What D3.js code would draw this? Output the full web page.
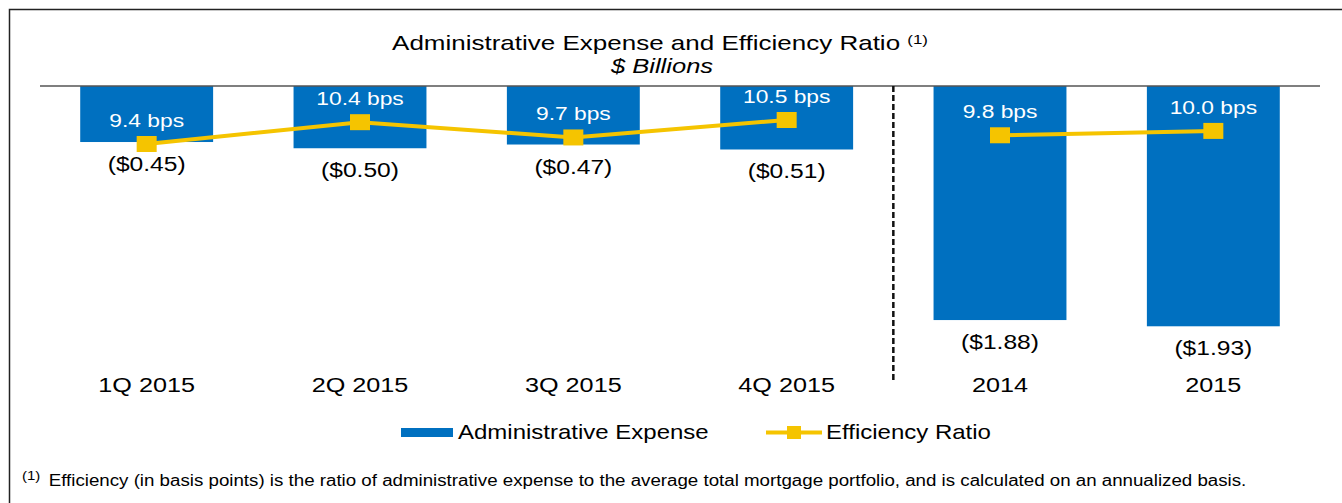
<!DOCTYPE html>
<html>
<head>
<meta charset="utf-8">
<script src="https://cdn.jsdelivr.net/npm/d3@7"></script>
<style>
  body { margin: 0; background: #fff; }
  svg { display: block; font-family: "Liberation Sans", Arial, sans-serif; }
</style>
</head>
<body>
<div id="chart"></div>
<script>
// data
const categories = ['1Q 2015', '2Q 2015', '3Q 2015', '4Q 2015', '2014', '2015'];
const expense = [0.45, 0.50, 0.47, 0.51, 1.88, 1.93];          // $ billions (shown negative)
const efficiency = [9.4, 10.4, 9.7, 10.5, 9.8, 10.0];          // bps
const periodGroup = ['quarter', 'quarter', 'quarter', 'quarter', 'year', 'year'];
const seriesNames = ['Administrative Expense', 'Efficiency Ratio'];

const W = 1342, H = 503;
const SX = 1.2; // the source picture is stretched horizontally
const BLUE = '#0070C0', GOLD = '#F5C400';

const svg = d3.select('#chart').append('svg')
    .attr('width', W)
    .attr('height', H);

// text helper: draws stretched text at x,y
function label(x, y, str, opts) {
    opts = opts || {};
    return svg.append('text')
        .attr('transform', `translate(${x},${y}) scale(${opts.sx || SX},1)`)
        .attr('text-anchor', opts.anchor || 'middle')
        .attr('font-size', opts.size || 20)
        .attr('font-style', opts.italic ? 'italic' : null)
        .attr('fill', opts.fill || '#000')
        .text(str);
}

// frame
svg.append('rect')
    .attr('x', 9.5).attr('y', 9.5)
    .attr('width', W + 20).attr('height', H + 20)
    .attr('fill', 'none')
    .attr('stroke', '#222')
    .attr('stroke-width', 1.5);

// title
const title = label(660, 50, 'Administrative Expense and Efficiency Ratio ', { size: 20, sx: 1.3 });
title.append('tspan')
    .attr('font-size', 13)
    .attr('dy', -6)
    .text('(1)');
label(662, 73, '$ Billions', { size: 19.5, italic: true, sx: 1.31 });

// scales
const x = d3.scaleBand()
    .domain(categories)
    .range([40, 1320])
    .paddingInner(0.377)
    .paddingOuter(0.1885);

const y = d3.scaleLinear()
    .domain([0, 2])
    .range([86, 335]);

const yEff = d3.scaleLinear()
    .domain([9.4, 10.5])
    .range([144, 120]);

// bars (hang down from the zero line)
svg.selectAll('rect.bar')
    .data(expense)
    .enter()
    .append('rect')
    .attr('class', 'bar')
    .attr('x', (d, i) => x(categories[i]))
    .attr('y', y(0))
    .attr('width', x.bandwidth())
    .attr('height', d => y(d) - y(0))
    .attr('fill', BLUE);

// zero line
svg.append('line')
    .attr('x1', 40).attr('x2', 1320)
    .attr('y1', y(0)).attr('y2', y(0))
    .attr('stroke', '#555')
    .attr('stroke-width', 1.5);

// divider between quarters and years
const divX = (x('4Q 2015') + x.bandwidth() + x('2014')) / 2;
svg.append('line')
    .attr('x1', divX).attr('x2', divX)
    .attr('y1', y(0)).attr('y2', 381)
    .attr('stroke', '#111')
    .attr('stroke-width', 2.5)
    .attr('stroke-dasharray', '6,3');

// bar value labels
expense.forEach((d, i) => {
    label(x(categories[i]) + x.bandwidth() / 2, y(d) + 29, `($${d.toFixed(2)})`, { size: 20.5 });
});

// efficiency lines, one per period group
const cx = i => x(categories[i]) + x.bandwidth() / 2;
const line = d3.line()
    .x(d => cx(d))
    .y(d => yEff(efficiency[d]));

['quarter', 'year'].forEach(g => {
    const idx = d3.range(categories.length).filter(i => periodGroup[i] === g);
    svg.append('path')
        .datum(idx)
        .attr('d', line)
        .attr('fill', 'none')
        .attr('stroke', GOLD)
        .attr('stroke-width', 4);
});

svg.selectAll('rect.marker')
    .data(efficiency)
    .enter()
    .append('rect')
    .attr('class', 'marker')
    .attr('x', (d, i) => cx(i) - 10)
    .attr('y', d => yEff(d) - 8)
    .attr('width', 20)
    .attr('height', 16)
    .attr('fill', GOLD);

// efficiency labels
efficiency.forEach((d, i) => {
    label(cx(i), yEff(d) - 17, `${d.toFixed(1)} bps`, { size: 19, fill: '#fff' });
});

// category labels
categories.forEach((c, i) => {
    label(cx(i), 392, c, { size: 21 });
});

// legend
svg.append('rect')
    .attr('x', 401).attr('y', 428)
    .attr('width', 52).attr('height', 9)
    .attr('fill', BLUE);
label(458, 439, seriesNames[0], { size: 20, anchor: 'start' });

svg.append('line')
    .attr('x1', 766).attr('x2', 822)
    .attr('y1', 432.5).attr('y2', 432.5)
    .attr('stroke', GOLD)
    .attr('stroke-width', 4);
svg.append('rect')
    .attr('x', 787).attr('y', 426)
    .attr('width', 14).attr('height', 13)
    .attr('fill', GOLD);
label(826, 439, seriesNames[1], { size: 20, anchor: 'start' });

// footnote
const foot = label(22, 486, '', { size: 15.6, anchor: 'start' });
foot.append('tspan')
    .attr('font-size', 12.5)
    .attr('dy', -6)
    .text('(1)');
foot.append('tspan')
    .attr('dy', 6)
    .attr('dx', 7)
    .text('Efficiency (in basis points) is the ratio of administrative expense to the average total mortgage portfolio, and is calculated on an annualized basis.');
</script>
</body>
</html>
